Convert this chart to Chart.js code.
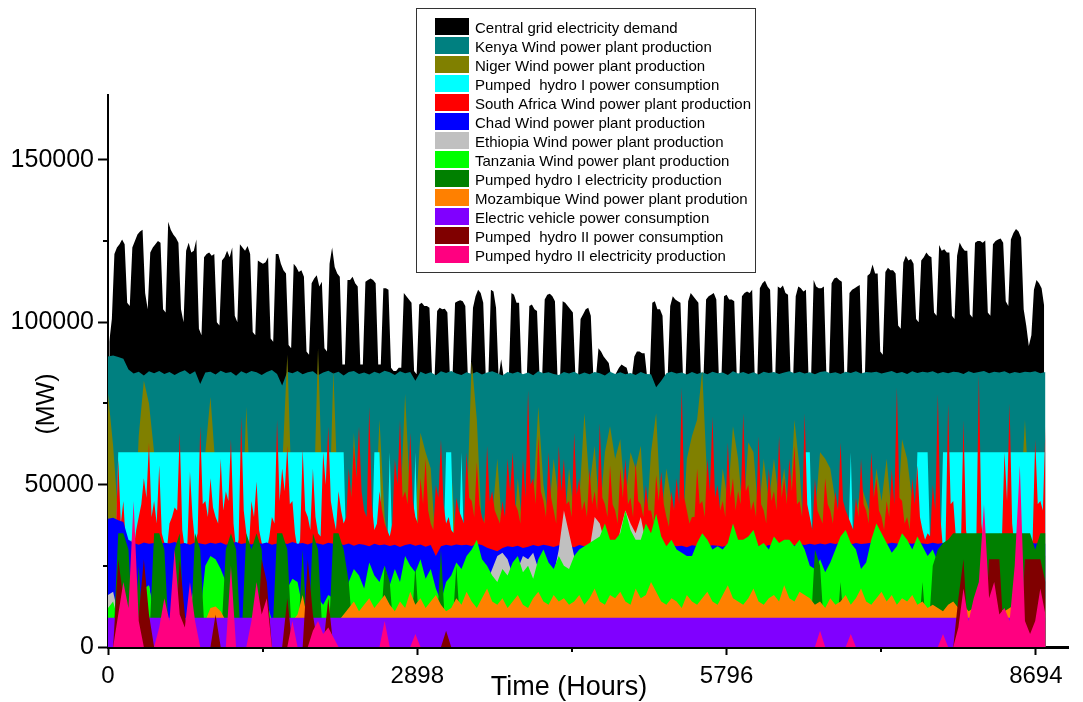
<!DOCTYPE html>
<html><head><meta charset="utf-8">
<script src="https://cdn.jsdelivr.net/npm/chart.js@4.4.1/dist/chart.umd.min.js"></script>
<style>html,body{margin:0;padding:0;background:#fff;}canvas{display:block;}</style>
</head><body>
<canvas id="c" width="1083" height="702"></canvas>
<script>
// ---------------- DATA (MW) ----------------
const xTitle = 'Time (Hours)';
const yTitle = '(MW)';
const xTickValues = [0, 2898, 5796, 8694];
const xMinorTicks = [1449, 4347, 7245];
const yTickValues = [0, 50000, 100000, 150000];
const yMinorTicks = [25000, 75000, 125000];

const seriesLabels = [
  'Central grid electricity demand',
  'Kenya Wind power plant production',
  'Niger Wind power plant production',
  'Pumped  hydro I power consumption',
  'South Africa Wind power plant production',
  'Chad Wind power plant production',
  'Ethiopia Wind power plant production',
  'Tanzania Wind power plant production',
  'Pumped hydro I electricity production',
  'Mozambique Wind power plant prodution',
  'Electric vehicle power consumption',
  'Pumped  hydro II power consumption',
  'Pumped hydro II electricity production'
];
const seriesColors = ['#000000','#008080','#808000','#00FFFF','#FF0000','#0000FF','#C0C0C0','#00FF00','#008000','#FF8000','#8000FF','#800000','#FF0080'];

// daily values (one per day, sampled at mid-day)
const demand = [
94000,101000,
121000,123000,124000,125500,124000,106000,105000,
123000,125000,127000,128000,128500,109000,104000,
121500,123000,124000,125000,124500,104000,103000,
131000,128500,127000,126000,124500,104000,100000,
122000,124500,121500,122000,125500,98000,96000,
120000,121000,121500,120500,121000,100000,99000,
119000,120000,122000,120000,123000,102000,100000,
124000,123000,122000,123500,121000,97000,96000,
119000,118500,118000,118500,120000,95000,94000,
121000,121000,118000,116000,115000,93000,92000,
118000,117000,115500,116000,114000,91000,90000,
112000,113500,114500,111000,112500,92000,91000,
118000,123000,117000,115000,114000,87000,87000,
113000,113000,114000,112000,111000,87000,87000,
112500,113000,113500,113000,112000,87000,87000,
110500,110500,110000,86000,85000,85000,86000,86000,
109000,108000,107000,106000,85000,84000,
105500,106000,105000,105000,104500,84000,83000,
103500,104500,104000,104200,103000,83000,83000,
106000,106500,106800,106500,105000,83000,83000,
104500,108000,110000,109000,106000,83000,83000,
110000,109500,104500,83000,88600,83000,83000,83000,
109000,108500,106000,106000,83000,83000,83000,
105000,105500,104000,103500,83000,83000,
107000,108500,108800,108000,106500,83000,83000,
106500,106000,105000,104000,103000,83000,83000,
101000,102500,104000,104500,102000,83000,83000,
92000,91000,89500,88500,87500,83000,83000,
84500,86000,87000,86500,86000,83000,83000,
89500,91000,91000,90500,90500,83000,83000,
106000,106500,104000,104000,102000,83000,83000,
105000,108000,107000,106500,106000,83000,83000,
106500,109000,108000,107000,106000,83000,83000,
107000,108000,108500,109000,107000,83000,83000,
108000,108500,107000,107000,106500,83000,83000,
108000,109000,109500,109000,110000,83000,83000,
110500,112000,112800,111000,110000,83000,83000,
111000,110500,111300,109000,108500,83000,83000,
108000,111000,110500,109500,110000,83000,83000,
113000,111000,110500,110500,111000,83000,83000,
112000,113500,113800,113000,112500,83000,83000,
109000,110000,110500,111000,111500,83000,83000,
114300,115000,117800,115000,115000,91000,90000,
115500,116800,116000,116000,115000,99000,98000,
118400,120500,119000,119500,118000,101000,100000,
119000,120000,121500,120500,120000,103000,102000,
123800,122000,122500,121500,121500,102000,101000,
120500,124600,123000,122000,122000,102500,101500,
124500,125000,125000,124500,125200,103000,102000,
124000,125000,125500,125800,124500,106500,105000,
125500,127500,128700,128000,126000,104000,99000,92700,96000,
110000,113000,112000,110500,105000
];

// South Africa: values every 24 hours (367 samples, hour 0 .. 8784)
const southAfrica = [
30000,30000,30000,34000,58000,38000,45000,31000,30000,33000,
30000,36000,40000,44000,52000,46000,63000,40000,45000,38000,
56000,35000,32000,30000,38000,40000,43000,42000,66000,36000,
30000,32000,54000,40000,32000,35000,68000,44000,45000,40000,
52000,43000,40000,38000,58000,42000,48000,45000,64000,38000,
30000,33000,71000,42000,35000,30000,45000,40000,51000,36000,
32000,30000,30000,34000,40000,38000,70000,45000,55000,48000,
62000,44000,45000,35000,30000,33000,61000,42000,40000,36000,
55000,40000,35000,34000,60000,50000,68000,45000,40000,36000,
48000,42000,38000,40000,55000,46000,62000,52000,68000,48000,
42000,40000,74000,44000,36000,38000,48000,42000,38000,36000,
34000,38000,58000,50000,70000,46000,48000,44000,66000,45000,
40000,38000,52000,44000,58000,42000,38000,36000,50000,46000,
64000,44000,38000,40000,36000,35000,46000,42000,40000,38000,
60000,46000,45000,40000,57000,44000,40000,38000,62000,45000,
48000,42000,40000,38000,45000,40000,58000,48000,60000,44000,
42000,38000,58000,46000,79000,50000,52000,44000,65000,48000,
45000,40000,60000,46000,42000,38000,62000,48000,58000,44000,
45000,40000,66000,47000,52000,42000,45000,40000,55000,44000,
48000,42000,69000,46000,44000,40000,56000,44000,42000,38000,
55000,46000,58000,44000,46000,40000,57000,45000,44000,40000,
50000,42000,42000,38000,53000,45000,54000,44000,40000,37000,
48000,42000,52000,44000,80000,46000,42000,38000,40000,40000,
55000,44000,45000,40000,58000,48000,71000,46000,50000,42000,
45000,40000,63000,46000,52000,42000,48000,44000,72000,48000,
50000,42000,45000,40000,65000,44000,42000,38000,55000,45000,
48000,42000,65000,46000,52000,44000,58000,48000,62000,44000,
45000,40000,72000,44000,40000,36000,52000,42000,40000,38000,
52000,44000,42000,38000,48000,42000,63000,45000,42000,40000,
38000,36000,46000,40000,58000,44000,42000,38000,60000,46000,
52000,42000,40000,36000,45000,40000,55000,44000,80000,46000,
45000,38000,40000,36000,52000,44000,56000,40000,36000,33000,
35000,34000,50000,42000,78000,40000,30000,32000,75000,44000,
45000,34000,30000,31000,70000,36000,30000,30000,30000,32000,
84000,38000,30000,30000,32000,31000,30000,30000,35000,33000,
60000,45000,75000,38000,30000,30000,30000,31000,35000,30000,
30000,33000,64000,44000,45000,42000,
68000
];

// values every 48 hours (184 samples, hour 0 .. 8784)
const kenya = [
89500,89800,89300,88800,85500,84200,84800,83600,84900,84300,
85000,84100,84700,83800,84600,85200,84000,84900,81000,84500,
84800,83900,85100,84400,84700,83500,84900,84200,85000,84600,
83800,84700,85300,84100,80500,84800,84300,85000,84000,84600,
84900,83700,84500,85100,84200,84800,83600,84700,85000,84100,
84500,83900,84800,84200,85100,84600,83800,84900,84300,84700,
82000,84800,84100,84600,83700,84900,84400,85000,84200,83800,
84600,84100,84800,83900,84500,84900,84300,83600,84700,84200,
84800,84000,84500,83700,84900,84300,84600,84100,83800,84700,
84200,84800,83900,84500,84000,84700,84300,83600,84800,84100,
84600,84000,84400,83800,84700,84100,84000,80000,82000,84300,
84800,84200,84500,83900,84700,84100,84600,84000,84800,84300,
84500,83800,84900,84200,84700,84100,84600,83900,84800,84400,
84700,84100,84500,84900,84300,84800,84200,84600,84000,84700,
84900,84300,84600,84100,84800,84400,84900,84200,84700,84500,
84800,84200,84600,85000,84300,84700,84100,84900,84400,84800,
84500,84900,84200,84700,84300,84800,84600,84100,84900,84400,
84700,85000,84300,84800,84500,84900,84200,84700,84400,84800,
84600,84900,84300,84700
];
const niger = [
78000,62000,40000,30000,28000,28000,65000,82000,75000,60000,
40000,30000,28000,28000,30000,28000,32000,28000,30000,60000,
77000,55000,40000,45000,35000,28000,30000,74000,40000,28000,
28000,30000,28000,35000,55000,90000,40000,28000,30000,28000,
35000,92000,40000,30000,85000,40000,30000,28000,66000,40000,
30000,28000,35000,70000,40000,30000,28000,40000,78000,45000,
40000,66000,60000,55000,30000,28000,32000,55000,30000,28000,
40000,88000,70000,35000,45000,40000,58000,35000,28000,30000,
52000,35000,30000,45000,74000,50000,40000,58000,45000,35000,
55000,40000,45000,72000,50000,62000,40000,60000,68000,58000,
64000,45000,60000,55000,62000,35000,60000,72000,40000,55000,
45000,40000,30000,58000,65000,70000,85000,50000,40000,35000,
55000,45000,68000,58000,40000,63000,60000,40000,58000,45000,
58000,45000,55000,40000,70000,55000,30000,28000,40000,60000,
58000,55000,45000,40000,35000,30000,40000,50000,45000,40000,
55000,45000,58000,40000,35000,64000,58000,45000,40000,35000,
30000,35000,30000,28000,28000,28000,30000,28000,28000,60000,
40000,28000,28000,28000,28000,28000,28000,30000,40000,70000,
40000,28000,30000,28000
];
const pumpedHydro1Consumption = [
0,0,60000,60000,60000,60000,60000,60000,60000,60000,
60000,60000,60000,60000,60000,60000,60000,60000,60000,60000,
60000,60000,60000,60000,60000,60000,60000,60000,60000,60000,
60000,60000,60000,60000,60000,60000,60000,60000,60000,60000,
60000,60000,60000,60000,60000,60000,60000,0,0,0,
0,0,60000,60000,0,60000,0,0,0,0,
60000,0,0,0,0,0,60000,60000,0,60000,
0,0,0,0,0,0,0,0,0,0,
0,0,0,0,0,0,0,0,0,0,
0,0,0,0,0,0,0,0,0,0,
0,0,0,0,0,0,0,0,0,0,
0,0,0,0,0,0,0,0,0,0,
0,0,0,0,0,0,0,0,0,0,
0,0,0,0,0,0,60000,60000,0,0,
0,0,0,0,0,60000,0,0,0,0,
0,0,0,0,0,0,0,0,60000,60000,
60000,0,0,60000,60000,60000,60000,60000,60000,60000,
60000,60000,60000,60000,60000,60000,60000,60000,60000,60000,
60000,60000,60000,60000
];
const chad = [
39500,39800,39000,38500,33000,32000,31500,32200,31800,32000,
31600,32100,31900,32300,31700,32000,31500,32200,31900,31600,
32100,31800,32200,31500,31900,32300,31700,32000,31600,32100,
31800,32200,31500,31900,32100,31700,32300,31800,32000,31600,
32200,31900,31500,32100,31800,32000,31400,31900,31200,31700,
31500,31000,31800,31300,31600,31100,31500,30800,31400,31700,
31200,31600,30900,31400,28000,31000,31500,31200,31600,31300,
31500,31100,31700,31400,30600,30000,29500,30500,31000,30800,
31200,30500,30900,31400,31000,31500,31200,30800,31300,31000,
31100,30700,31400,31000,31500,31200,30900,31300,31000,31400,
31200,30800,31300,31000,31500,31100,31400,30900,31300,31000,
31400,31000,31200,30700,31300,31100,31500,31000,31300,31200,
30900,31400,31100,31500,31000,31300,31600,31200,30800,31400,
31100,31500,31200,31600,31300,31700,31400,31800,31500,31900,
31600,32000,31700,32100,31800,31600,32000,31700,31900,32100,
31800,32000,31700,32100,31900,31600,32000,31800,32200,31900,
31700,32100,31800,32000,31700,32200,31900,32100,31800,32000,
32200,31900,32100,31800,32000,32300,31900,32100,31800,32000,
32200,31900,32100,31800
];
const ethiopia = [
16000,17000,10000,7000,7000,7000,7000,12000,19000,8000,
7000,7000,7000,7000,7000,7000,12000,20000,8000,10000,
12000,10000,8000,7000,7000,7000,7000,7000,7000,7000,
7000,7000,7000,7000,15000,22000,12000,7000,7000,7000,
7000,7000,7000,7000,7000,7000,10000,12000,15000,14000,
15000,16000,14000,15000,16000,14000,15000,16000,15000,14000,
15000,16000,15000,14000,16000,15000,14000,16000,15000,17000,
16000,15000,17000,18000,20000,24000,28000,29000,27000,22000,
24000,28000,27000,29000,24000,20000,18000,22000,30000,42000,
35000,28000,25000,27000,30000,40000,38000,32000,30000,28000,
36000,42000,38000,35000,40000,32000,28000,30000,33000,26000,
24000,22000,20000,22000,25000,28000,24000,20000,18000,20000,
22000,20000,18000,20000,24000,22000,20000,18000,20000,22000,
20000,22000,24000,27000,20000,18000,16000,15000,16000,18000,
16000,15000,17000,15000,16000,14000,15000,17000,16000,15000,
14000,15000,16000,14000,15000,16000,14000,15000,13000,14000,
12000,11000,10000,9000,8000,8000,8000,8000,8000,8000,
8000,8000,8000,8000,8000,8000,8000,8000,8000,8000,
8000,8000,8000,8000
];
const tanzania = [
12000,14000,8000,7000,7000,7000,10000,18000,19000,10000,
7000,7000,7000,7000,7000,7000,7000,7000,10000,25000,
28000,27000,24000,20000,10000,7000,7000,7000,10000,15000,
16000,14000,8000,7000,10000,18000,21000,20000,12000,7000,
14000,15000,13000,16000,15000,12000,16000,20000,24000,22000,
18000,26000,22000,20000,25000,19000,24000,20000,28000,25000,
23000,27000,21000,24000,18000,14000,20000,22000,26000,24000,
28000,30000,33000,27000,25000,22000,20000,24000,22000,26000,
28000,23000,25000,21000,27000,30000,26000,24000,28000,25000,
24000,28000,30000,31000,32000,33000,34000,38000,33000,33000,
35000,42000,36000,33000,33000,38000,35000,41000,34000,31000,
33000,30000,29000,28000,28000,32000,35000,33000,30000,31000,
30000,32000,38000,33000,33000,34000,36000,31000,32000,30000,
34000,32000,33000,33000,31000,33000,30000,25000,24000,27000,
23000,26000,30000,34000,36000,32000,30000,24000,26000,33000,
38000,35000,32000,29000,31000,35000,33000,30000,34000,31000,
28000,30000,26000,18000,15000,12000,8000,8000,8000,8000,
8000,8000,8000,8000,8000,8000,8000,8000,8000,8000,
8000,8000,8000,8000
];
const pumpedHydro1Production = [
0,0,35000,35000,30000,0,25000,0,0,35000,
35000,30000,0,30000,35000,0,0,35000,30000,0,
0,0,0,30000,35000,30000,0,35000,30000,35000,
30000,0,0,35000,35000,30000,0,0,30000,0,
35000,30000,0,0,35000,35000,30000,20000,0,0,
0,0,0,0,25000,20000,0,0,0,0,
25000,0,0,0,0,30000,0,0,25000,0,
0,0,0,0,0,0,0,0,0,0,
0,0,0,0,0,0,0,0,0,0,
0,0,0,0,0,0,0,0,0,0,
0,0,0,0,0,0,0,0,0,0,
0,0,0,0,0,0,0,0,0,0,
0,0,0,0,0,0,0,0,0,0,
0,0,0,0,0,0,0,0,30000,25000,
0,0,0,20000,0,0,0,0,0,0,
0,0,0,0,0,0,0,0,0,20000,
0,25000,30000,32000,33000,35000,35000,35000,35000,35000,
35000,35000,35000,35000,35000,35000,35000,35000,35000,35000,
35000,30000,35000,35000
];
const mozambique = [
5000,5000,5000,5000,5000,5000,5000,5000,5000,5000,
5000,5000,5000,5000,5000,5000,5000,5000,5000,8000,
12000,12500,11000,8000,5000,5000,5000,5000,5000,5000,
5000,5000,5000,5000,5000,5000,8000,10000,16000,8000,
5000,5000,5000,5000,6000,8000,10000,12000,14000,11000,
13000,15000,12000,14000,16000,13000,11000,14000,12000,17000,
13000,15000,12000,14000,16000,13000,11000,12000,15000,13000,
17000,14000,12000,15000,18000,14000,13000,15000,12000,14000,
16000,13000,12000,15000,17000,14000,13000,16000,14000,15000,
13000,14000,16000,13000,15000,18000,14000,13000,16000,15000,
17000,14000,13000,18000,15000,16000,20000,17000,14000,13000,
15000,14000,12000,16000,14000,13000,15000,17000,14000,13000,
16000,19000,15000,14000,13000,15000,18000,14000,13000,15000,
16000,14000,19000,15000,14000,17000,16000,15000,13000,14000,
12000,15000,13000,14000,16000,13000,15000,18000,14000,13000,
15000,17000,14000,16000,13000,15000,14000,16000,13000,14000,
12000,13000,12000,11000,13000,14000,12000,13000,11000,12000,
13000,11000,12000,13000,12000,11000,12000,13000,12000,13000,
12000,13000,14000,15000
];
const evHours = [0, 8784];
const electricVehicle = [9000, 9000];
const pumpedHydro2Consumption = [
0,0,27000,15000,0,0,10000,27000,10000,0,
0,0,0,0,27000,10000,0,0,0,0,
0,10000,0,0,0,0,0,0,0,0,
27000,20000,0,0,0,15000,0,0,0,27000,
10000,0,0,15000,0,0,0,0,0,0,
0,0,0,0,0,0,0,0,0,0,
0,0,0,0,0,0,5000,0,0,0,
0,0,0,0,0,0,0,0,0,0,
0,0,0,0,0,0,0,0,0,0,
0,0,0,0,0,0,0,0,0,0,
0,0,0,0,0,0,0,0,0,0,
0,0,0,0,0,0,0,0,0,0,
0,0,0,0,0,0,0,0,0,0,
0,0,0,0,0,0,0,0,0,0,
0,0,0,0,0,0,0,0,0,0,
0,0,0,0,0,0,0,0,0,0,
0,0,0,0,0,0,15000,27000,0,0,
0,0,27000,27000,27000,0,0,0,0,27000,
27000,27000,27000,20000
];
const pumpedHydro2Production = [
0,0,10000,20000,12000,45000,8000,0,0,0,
6000,15000,8000,30000,10000,6000,20000,8000,0,0,
0,0,0,0,25000,0,0,0,8000,20000,
10000,15000,0,0,0,0,8000,0,0,0,
5000,8000,4000,6000,3000,0,0,0,0,0,
0,0,0,0,8000,0,0,0,0,0,
4000,0,0,0,0,0,0,0,0,0,
0,0,0,0,0,0,0,0,0,0,
0,0,0,0,0,0,0,0,0,0,
0,0,0,0,0,0,0,0,0,0,
0,0,0,0,0,0,0,0,0,0,
0,0,0,0,0,0,0,0,0,0,
0,0,0,0,0,0,0,0,0,0,
0,0,0,0,0,0,0,0,0,5000,
0,0,0,0,0,4000,0,0,0,0,
0,0,0,0,0,0,0,0,0,0,
0,0,0,4000,0,0,6000,18000,8000,15000,
20000,44000,15000,20000,10000,12000,8000,25000,56000,8000,
4000,8000,18000,10000
];

// sample times (hours)
const dayHours = demand.map((_, d) => d * 24 + 12);
const hours24 = southAfrica.map((_, j) => j * 24);
const hours48 = kenya.map((_, i) => i * 48);

// ---------------- CHART ----------------
const FONT = "'Liberation Sans', Arial, Helvetica, sans-serif";
const seriesValues = [demand, kenya, niger, pumpedHydro1Consumption, southAfrica, chad, ethiopia, tanzania,
  pumpedHydro1Production, mozambique, electricVehicle, pumpedHydro2Consumption, pumpedHydro2Production];
const seriesHours = seriesValues.map(v => v === demand ? dayHours : v === southAfrica ? hours24 : v === electricVehicle ? evHours : hours48);

const datasets = seriesValues.map((vals, idx) => ({
  label: seriesLabels[idx],
  data: seriesHours[idx].map((h, i) => ({x: h, y: vals[i]})),
  backgroundColor: seriesColors[idx],
  borderColor: seriesColors[idx],
  borderWidth: 0,
  fill: 'origin',
  pointRadius: 0,
  pointHoverRadius: 0,
  tension: 0,
  order: seriesValues.length - idx
}));

const decor = {
  id: 'decor',
  afterDraw(chart) {
    const ctx = chart.ctx, xs = chart.scales.x, ys = chart.scales.y, ca = chart.chartArea;
    ctx.save();
    ctx.strokeStyle = '#000';
    ctx.lineWidth = 2;
    xMinorTicks.forEach(v => {
      const px = Math.round(xs.getPixelForValue(v));
      ctx.beginPath(); ctx.moveTo(px, ca.bottom); ctx.lineTo(px, ca.bottom + 5); ctx.stroke();
    });
    yMinorTicks.forEach(v => {
      const py = Math.round(ys.getPixelForValue(v));
      ctx.beginPath(); ctx.moveTo(ca.left, py); ctx.lineTo(ca.left - 5, py); ctx.stroke();
    });
    ctx.fillStyle = '#000';
    ctx.textAlign = 'center';
    ctx.textBaseline = 'alphabetic';
    ctx.font = '27px ' + FONT;
    ctx.fillText(xTitle, 569, 695);
    ctx.save();
    ctx.translate(54, 404);
    ctx.rotate(-Math.PI / 2);
    ctx.font = '25px ' + FONT;
    ctx.fillText(yTitle, 0, 0);
    ctx.restore();
    // legend box
    const bx = 416.5, by = 8.5, bw = 339, bh = 264;
    ctx.fillStyle = '#fff';
    ctx.fillRect(bx, by, bw, bh);
    ctx.strokeStyle = '#333';
    ctx.lineWidth = 1;
    ctx.strokeRect(bx, by, bw, bh);
    ctx.font = '15px ' + FONT;
    ctx.textAlign = 'left';
    seriesLabels.forEach((lab, k) => {
      const cy = 26.5 + 19.04 * k;
      ctx.fillStyle = seriesColors[k];
      ctx.fillRect(435, Math.round(cy - 8.5), 34, 17);
      ctx.fillStyle = '#000';
      ctx.fillText(lab, 475, cy + 6);
    });
    ctx.restore();
  }
};

new Chart(document.getElementById('c'), {
  type: 'line',
  data: { datasets },
  options: {
    responsive: false,
    devicePixelRatio: 1,
    animation: false,
    events: [],
    parsing: false,
    normalized: true,
    layout: { padding: { left: 0, right: 14.5, top: 95, bottom: 0 } },
    plugins: { legend: { display: false }, tooltip: { enabled: false }, title: { display: false } },
    scales: {
      x: {
        type: 'linear', min: 0, max: 9000,
        afterBuildTicks: s => { s.ticks = xTickValues.map(v => ({ value: v })); },
        afterFit: s => { s.height = 55; },
        ticks: { autoSkip: false, maxRotation: 0, color: '#000', padding: 7, font: { family: FONT, size: 24 }, callback: v => String(v) },
        grid: { display: true, drawOnChartArea: false, drawTicks: true, tickLength: 8, tickWidth: 2, tickColor: '#000', color: '#000' },
        border: { display: true, color: '#000', width: 3 }
      },
      y: {
        type: 'linear', min: 0, max: 170000,
        afterBuildTicks: s => { s.ticks = yTickValues.map(v => ({ value: v })); },
        afterFit: s => { s.width = 108; },
        ticks: { color: '#000', padding: 4, font: { family: FONT, size: 25 }, callback: v => String(v) },
        grid: { display: true, drawOnChartArea: false, drawTicks: true, tickLength: 10, tickWidth: 2, tickColor: '#000', color: '#000' },
        border: { display: true, color: '#000', width: 2 }
      }
    }
  },
  plugins: [decor]
});
</script>
</body></html>
